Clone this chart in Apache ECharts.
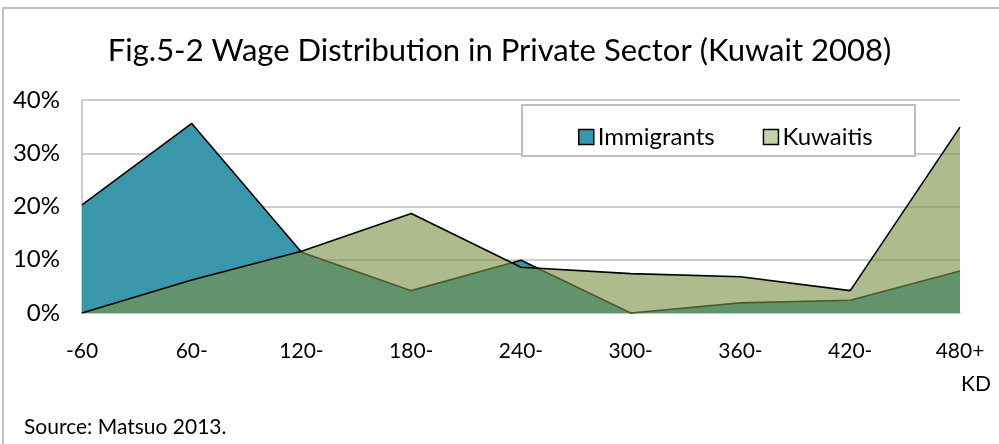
<!DOCTYPE html>
<html>
<head>
<meta charset="utf-8">
<script src="https://cdn.jsdelivr.net/npm/echarts@6/dist/echarts.min.js"></script>
<style>html,body{margin:0;padding:0;background:#fff;}#c{width:999px;height:444px;}</style>
</head>
<body>
<div id="c"></div>
<script>
const categories = ['-60', '60-', '120-', '180-', '240-', '300-', '360-', '420-', '480+'];
const immigrants = [20.3, 35.6, 11.4, 4.2, 9.9, 0, 1.9, 2.4, 7.9];
const kuwaitis = [0, 6.2, 11.6, 18.7, 8.6, 7.4, 6.8, 4.2, 34.9];
const yTicks = [0, 10, 20, 30, 40];

const FONT = 'Lato';
const chart = echarts.init(document.getElementById('c'), null, {renderer: 'canvas'});
chart.setOption({
  animation: false,
  backgroundColor: '#fff',
  title: {
    text: 'Fig.5-2 Wage Distribution in Private Sector (Kuwait 2008)',
    left: 'center', top: 30,
    textStyle: {fontFamily: FONT, fontSize: 31, fontWeight: 'normal', color: '#000'}
  },
  legend: {
    data: ['Immigrants', 'Kuwaitis'],
    left: 573, top: 120,
    icon: 'rect', itemWidth: 15, itemHeight: 15, itemGap: 48,
    textStyle: {fontFamily: FONT, fontSize: 24, color: '#000', padding: [0, 0, 0, -1]},
    itemStyle: {borderColor: '#000', borderWidth: 1.5},
    z: 10
  },
  graphic: [
    {type: 'rect', shape: {x: 3, y: 8, width: 1020, height: 470}, style: {fill: 'none', stroke: '#c0c0c0', lineWidth: 2}, z: 0, silent: true},
    {type: 'rect', shape: {x: 522, y: 105, width: 393, height: 51}, style: {fill: '#fff', stroke: '#bdbdbd', lineWidth: 2}, z: 9, silent: true},
    {type: 'text', left: 961, top: 374, style: {text: 'KD', fontFamily: FONT, fontSize: 21, fill: '#000'}},
    {type: 'text', left: 24, top: 417, style: {text: 'Source: Matsuo 2013.', fontFamily: FONT, fontSize: 21, fill: '#000'}}
  ],
  grid: {left: 82, right: 39, top: 100, bottom: 131},
  xAxis: {
    type: 'category', data: categories, boundaryGap: false,
    axisLine: {show: true, lineStyle: {color: '#bdbdbd', width: 1.5}},
    axisTick: {show: false},
    axisLabel: {fontFamily: FONT, fontSize: 21, color: '#000', margin: 28}
  },
  yAxis: {
    type: 'value', min: 0, max: 40, interval: 10,
    axisLine: {show: true, lineStyle: {color: '#bdbdbd', width: 1.5}},
    axisTick: {show: false},
    axisLabel: {fontFamily: FONT, fontSize: 24, color: '#000', margin: 22, padding: [4, 0, 0, 0],
      formatter: v => yTicks.includes(v) ? v + '%' : ''},
    splitLine: {lineStyle: {color: '#bdbdbd', width: 1.5}}
  },
  series: [
    {name: 'Immigrants', type: 'line', data: immigrants, symbol: 'none',
      lineStyle: {color: '#000', width: 1.6},
      itemStyle: {color: '#3a96ab'},
      areaStyle: {color: '#3a96ab', opacity: 1}, z: 2},
    {name: 'Kuwaitis', type: 'line', data: kuwaitis, symbol: 'none',
      lineStyle: {color: '#000', width: 1.6},
      itemStyle: {color: '#c6d2a8'},
      areaStyle: {color: 'rgb(122,145,71)', opacity: 0.62}, z: 3}
  ]
});
</script>
</body>
</html>
